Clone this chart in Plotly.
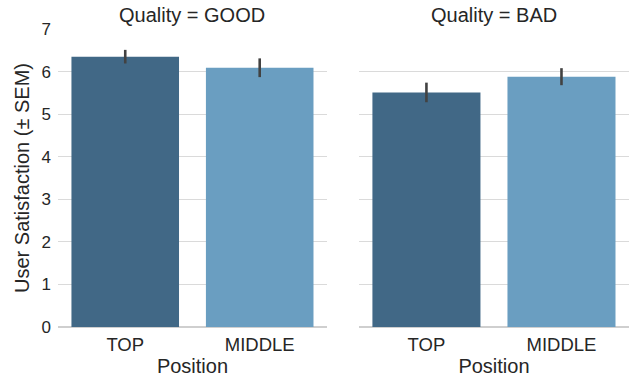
import plotly.graph_objects as go
from plotly.subplots import make_subplots

positions = ["TOP", "MIDDLE"]
qualities = ["GOOD", "BAD"]
means = {"GOOD": [6.35, 6.09], "BAD": [5.51, 5.88]}
sems = {"GOOD": [0.16, 0.22], "BAD": [0.23, 0.20]}
colors = ["#416886", "#6a9ec1"]
yticks = [0, 1, 2, 3, 4, 5, 6, 7]

FONT = "Liberation Sans, Arial, sans-serif"
TXT = "#262626"
fig = make_subplots(rows=1, cols=2, shared_yaxes=True, horizontal_spacing=0.056)

for i, q in enumerate(qualities):
    fig.add_trace(go.Bar(
        x=positions, y=means[q], marker=dict(color=colors, line=dict(width=0)),
        width=0.8,
        error_y=dict(type="data", array=sems[q], color="#424242", thickness=2.6, width=0),
        showlegend=False), row=1, col=i + 1)

for i, q in enumerate(qualities):
    xa = "xaxis" if i == 0 else "xaxis2"
    fig.layout[xa].update(
        title=dict(text="Position", font=dict(size=20, color=TXT), standoff=0),
        tickfont=dict(size=18.5, color=TXT), showgrid=False, zeroline=False,
        showline=False, ticks="", ticklabelstandoff=4)
fig.update_yaxes(range=[0, 7], tickvals=yticks, showgrid=True, gridcolor="#dadada",
                 gridwidth=1, zeroline=True, zerolinecolor="#cfcfcf", zerolinewidth=1.5,
                 showline=False, ticks="", tickfont=dict(size=17, color=TXT))
fig.layout.yaxis.update(title=dict(text="User Satisfaction (± SEM)",
                                   font=dict(size=20, color=TXT), standoff=6),
                        ticklabelstandoff=6)
fig.layout.yaxis2.update(showticklabels=False)

fig.layout.xaxis.domain = [0, 0.471]
fig.layout.xaxis2.domain = [0.527, 1]

for i, q in enumerate(qualities):
    dom = fig.layout.xaxis.domain if i == 0 else fig.layout.xaxis2.domain
    fig.add_annotation(text=f"Quality = {q}", x=(dom[0] + dom[1]) / 2, y=1.0,
                       xref="paper", yref="paper", xanchor="center", yanchor="bottom",
                       yshift=1, showarrow=False, font=dict(size=20, color=TXT))

fig.update_layout(width=629, height=377, margin=dict(l=58, r=0, t=29, b=50),
                  plot_bgcolor="white", paper_bgcolor="white",
                  font=dict(family=FONT), bargap=0.2)
fig.write_html("out.html")
